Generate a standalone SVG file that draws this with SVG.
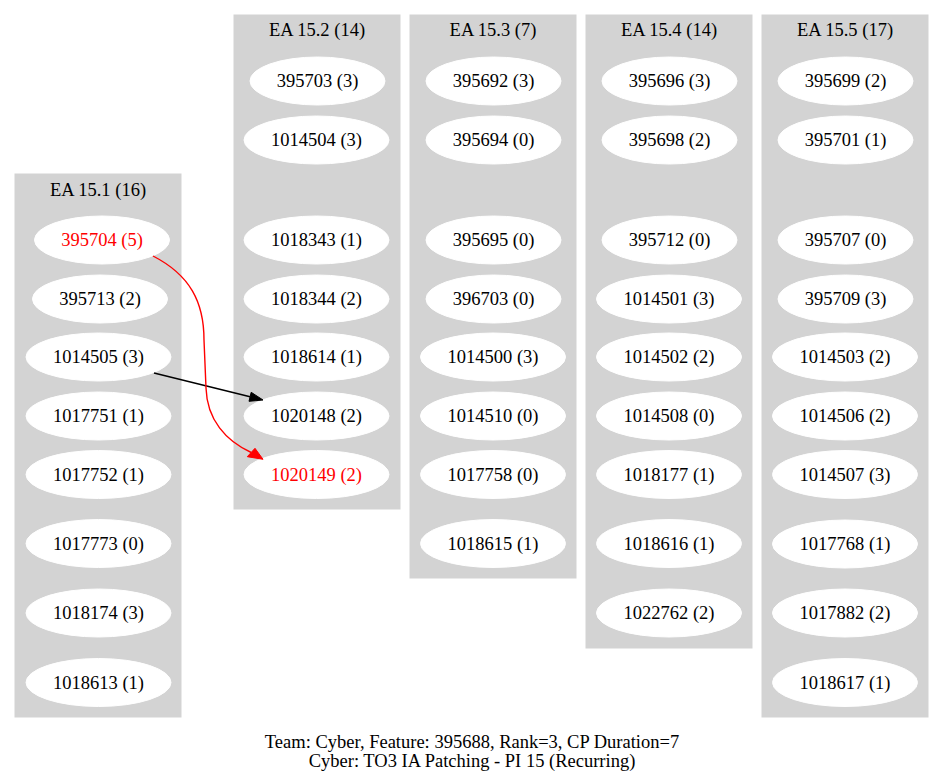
<svg xmlns="http://www.w3.org/2000/svg" width="944" height="784" viewBox="0 0 944 784">
<defs>
<style>
.cl{fill:#d3d3d3;stroke:#d3d3d3;stroke-width:1}
.nd ellipse{fill:#fff;stroke:#fff;stroke-width:1}
text{font-family:"Liberation Serif","Times New Roman",serif;font-size:18.5px;text-anchor:middle;fill:#000}
.red text{fill:#ff0000}
.e{fill:none;stroke-width:1.4}
</style>
</defs>
<rect width="944" height="784" fill="#fff"/>
<g id="clusters">
<g id="cluster_1"><rect class="cl" x="15" y="174" width="166" height="543"/><text x="98" y="195.5">EA 15.1 (16)</text></g>
<g id="cluster_2"><rect class="cl" x="234" y="15" width="166" height="494"/><text x="317" y="36">EA 15.2 (14)</text></g>
<g id="cluster_3"><rect class="cl" x="410" y="15" width="166" height="563"/><text x="493" y="36">EA 15.3 (7)</text></g>
<g id="cluster_4"><rect class="cl" x="586" y="15" width="166" height="633"/><text x="669" y="36">EA 15.4 (14)</text></g>
<g id="cluster_5"><rect class="cl" x="762" y="15" width="166" height="702"/><text x="845" y="36">EA 15.5 (17)</text></g>
</g>
<g id="nodes">
<g id="n395704" class="nd red"><ellipse cx="102" cy="240" rx="67.5" ry="24"/><text x="102" y="246">395704 (5)</text></g>
<g id="n395713" class="nd"><ellipse cx="100" cy="299" rx="67.5" ry="24"/><text x="100" y="305">395713 (2)</text></g>
<g id="n1014505" class="nd"><ellipse cx="98.5" cy="357" rx="72.5" ry="24"/><text x="98.5" y="363">1014505 (3)</text></g>
<g id="n1017751" class="nd"><ellipse cx="98.5" cy="416" rx="72.5" ry="24"/><text x="98.5" y="422">1017751 (1)</text></g>
<g id="n1017752" class="nd"><ellipse cx="98.5" cy="474.5" rx="72.5" ry="24"/><text x="98.5" y="480.5">1017752 (1)</text></g>
<g id="n1017773" class="nd"><ellipse cx="98.5" cy="543.5" rx="72.5" ry="24"/><text x="98.5" y="549.5">1017773 (0)</text></g>
<g id="n1018174" class="nd"><ellipse cx="98.5" cy="613" rx="72.5" ry="24"/><text x="98.5" y="619">1018174 (3)</text></g>
<g id="n1018613" class="nd"><ellipse cx="98.5" cy="682.5" rx="72.5" ry="24"/><text x="98.5" y="688.5">1018613 (1)</text></g>

<g id="n395703" class="nd"><ellipse cx="317.5" cy="81" rx="67.5" ry="24"/><text x="317.5" y="87">395703 (3)</text></g>
<g id="n1014504" class="nd"><ellipse cx="316.5" cy="140" rx="72.5" ry="24"/><text x="316.5" y="146">1014504 (3)</text></g>
<g id="n1018343" class="nd"><ellipse cx="316.5" cy="240" rx="72.5" ry="24"/><text x="316.5" y="246">1018343 (1)</text></g>
<g id="n1018344" class="nd"><ellipse cx="316.5" cy="299" rx="72.5" ry="24"/><text x="316.5" y="305">1018344 (2)</text></g>
<g id="n1018614" class="nd"><ellipse cx="316.5" cy="357" rx="72.5" ry="24"/><text x="316.5" y="363">1018614 (1)</text></g>
<g id="n1020148" class="nd"><ellipse cx="316.5" cy="416" rx="72.5" ry="24"/><text x="316.5" y="422">1020148 (2)</text></g>
<g id="n1020149" class="nd red"><ellipse cx="316.5" cy="474.5" rx="72.5" ry="24"/><text x="316.5" y="480.5">1020149 (2)</text></g>

<g id="n395692" class="nd"><ellipse cx="493.5" cy="81" rx="67.5" ry="24"/><text x="493.5" y="87">395692 (3)</text></g>
<g id="n395694" class="nd"><ellipse cx="493.5" cy="140" rx="67.5" ry="24"/><text x="493.5" y="146">395694 (0)</text></g>
<g id="n395695" class="nd"><ellipse cx="493.5" cy="240" rx="67.5" ry="24"/><text x="493.5" y="246">395695 (0)</text></g>
<g id="n396703" class="nd"><ellipse cx="493.5" cy="299" rx="67.5" ry="24"/><text x="493.5" y="305">396703 (0)</text></g>
<g id="n1014500" class="nd"><ellipse cx="493" cy="357" rx="72.5" ry="24"/><text x="493" y="363">1014500 (3)</text></g>
<g id="n1014510" class="nd"><ellipse cx="493" cy="416" rx="72.5" ry="24"/><text x="493" y="422">1014510 (0)</text></g>
<g id="n1017758" class="nd"><ellipse cx="493" cy="474.5" rx="72.5" ry="24"/><text x="493" y="480.5">1017758 (0)</text></g>
<g id="n1018615" class="nd"><ellipse cx="493" cy="543.5" rx="72.5" ry="24"/><text x="493" y="549.5">1018615 (1)</text></g>

<g id="n395696" class="nd"><ellipse cx="669.5" cy="81" rx="67.5" ry="24"/><text x="669.5" y="87">395696 (3)</text></g>
<g id="n395698" class="nd"><ellipse cx="669.5" cy="140" rx="67.5" ry="24"/><text x="669.5" y="146">395698 (2)</text></g>
<g id="n395712" class="nd"><ellipse cx="669.5" cy="240" rx="67.5" ry="24"/><text x="669.5" y="246">395712 (0)</text></g>
<g id="n1014501" class="nd"><ellipse cx="669" cy="299" rx="72.5" ry="24"/><text x="669" y="305">1014501 (3)</text></g>
<g id="n1014502" class="nd"><ellipse cx="669" cy="357" rx="72.5" ry="24"/><text x="669" y="363">1014502 (2)</text></g>
<g id="n1014508" class="nd"><ellipse cx="669" cy="416" rx="72.5" ry="24"/><text x="669" y="422">1014508 (0)</text></g>
<g id="n1018177" class="nd"><ellipse cx="669" cy="474.5" rx="72.5" ry="24"/><text x="669" y="480.5">1018177 (1)</text></g>
<g id="n1018616" class="nd"><ellipse cx="669" cy="543.5" rx="72.5" ry="24"/><text x="669" y="549.5">1018616 (1)</text></g>
<g id="n1022762" class="nd"><ellipse cx="669" cy="613" rx="72.5" ry="24"/><text x="669" y="619">1022762 (2)</text></g>

<g id="n395699" class="nd"><ellipse cx="845.5" cy="81" rx="67.5" ry="24"/><text x="845.5" y="87">395699 (2)</text></g>
<g id="n395701" class="nd"><ellipse cx="845.5" cy="140" rx="67.5" ry="24"/><text x="845.5" y="146">395701 (1)</text></g>
<g id="n395707" class="nd"><ellipse cx="845.5" cy="240" rx="67.5" ry="24"/><text x="845.5" y="246">395707 (0)</text></g>
<g id="n395709" class="nd"><ellipse cx="845.5" cy="299" rx="67.5" ry="24"/><text x="845.5" y="305">395709 (3)</text></g>
<g id="n1014503" class="nd"><ellipse cx="845" cy="357" rx="72.5" ry="24"/><text x="845" y="363">1014503 (2)</text></g>
<g id="n1014506" class="nd"><ellipse cx="845" cy="416" rx="72.5" ry="24"/><text x="845" y="422">1014506 (2)</text></g>
<g id="n1014507" class="nd"><ellipse cx="845" cy="474.5" rx="72.5" ry="24"/><text x="845" y="480.5">1014507 (3)</text></g>
<g id="n1017768" class="nd"><ellipse cx="845" cy="544" rx="72.5" ry="24"/><text x="845" y="550">1017768 (1)</text></g>
<g id="n1017882" class="nd"><ellipse cx="845" cy="613" rx="72.5" ry="24"/><text x="845" y="619">1017882 (2)</text></g>
<g id="n1018617" class="nd"><ellipse cx="845" cy="682.5" rx="72.5" ry="24"/><text x="845" y="688.5">1018617 (1)</text></g>
</g>
<g id="edges">
<g id="e_1014505_1020148"><path class="e" stroke="#000" d="M154,373 L250.1,396.8"/><polygon fill="#000" stroke="#000" points="263,400 249,401.3 251.2,392.3"/></g>
<g id="e_395704_1020149"><path class="e" stroke="#ff0000" d="M153,256 C190,275 204,302 204,340 L206,388 C207,420 226,441 251.2,452.5"/><polygon fill="#ff0000" stroke="#ff0000" points="263,459.3 247.3,456.7 255,448.3"/></g>
</g>
<g id="caption">
<text x="472" y="748">Team: Cyber, Feature: 395688, Rank=3, CP Duration=7</text>
<text x="472" y="767">Cyber: TO3 IA Patching - PI 15 (Recurring)</text>
</g>
</svg>
